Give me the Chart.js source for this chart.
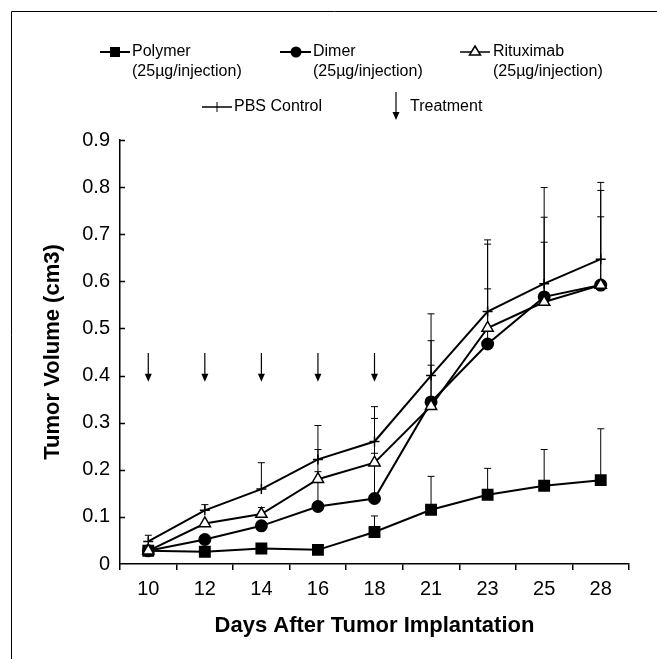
<!DOCTYPE html>
<html>
<head>
<meta charset="utf-8">
<script src="https://cdn.jsdelivr.net/npm/chart.js@4.4.0/dist/chart.umd.min.js"></script>
<style>
  html, body { margin: 0; padding: 0; background: #fff; }
  canvas { display: block; }
</style>
</head>
<body>
<canvas id="tumor" width="657" height="659"></canvas>
<script>
var days = ['10', '12', '14', '16', '18', '21', '23', '25', '28'];

var polymer    = [0.028, 0.026, 0.033, 0.030, 0.068, 0.115, 0.147, 0.166, 0.178];
var polymerErr = [0, 0, 0, 0, 0.034, 0.071, 0.056, 0.077, 0.109];

var dimer      = [0.028, 0.052, 0.081, 0.122, 0.139, 0.344, 0.467, 0.567, 0.592];
var dimerErr   = [0, 0, 0, 0.074, 0.096, 0.130, 0.117, 0.116, 0.145];

var rituximab    = [0.028, 0.086, 0.106, 0.180, 0.215, 0.335, 0.501, 0.556, 0.592];
var rituximabErr = [0, 0, 0.014, 0.063, 0.094, 0.087, 0.178, 0.180, 0.201];

var pbs    = [0.048, 0.114, 0.159, 0.222, 0.260, 0.400, 0.536, 0.595, 0.647];
var pbsErr = [0.013, 0.012, 0.056, 0.072, 0.074, 0.131, 0.152, 0.204, 0.163];

// treatment arrows
var treatmentDays = ['10', '12', '14', '16', '18'];
var arrowTop = 0.448;
var arrowTip = 0.387;

var FONT = "'Liberation Sans', Arial, Helvetica, sans-serif";

// upper error bars, drawn under the markers
var errorBars = {
  id: 'errorBars',
  beforeDatasetsDraw: function (chart) {
    var ctx = chart.ctx, x = chart.scales.x, y = chart.scales.y;
    ctx.save();
    ctx.strokeStyle = '#000';
    ctx.lineWidth = 1;
    chart.data.datasets.forEach(function (ds) {
      if (!ds.errors) return;
      ds.data.forEach(function (v, i) {
        var e = ds.errors[i];
        if (!e) return;
        var px = x.getPixelForValue(i);
        var y0 = y.getPixelForValue(v);
        var y1 = y.getPixelForValue(v + e);
        ctx.beginPath();
        ctx.moveTo(px, y0);
        ctx.lineTo(px, y1);
        ctx.moveTo(px - 3.5, y1);
        ctx.lineTo(px + 3.5, y1);
        ctx.stroke();
      });
    });
    ctx.restore();
  }
};

function drawArrow(ctx, px, yTop, yTip) {
  ctx.beginPath();
  ctx.moveTo(px, yTop);
  ctx.lineTo(px, yTip - 6);
  ctx.stroke();
  ctx.beginPath();
  ctx.moveTo(px - 3.5, yTip - 8);
  ctx.lineTo(px + 3.5, yTip - 8);
  ctx.lineTo(px, yTip);
  ctx.closePath();
  ctx.fill();
}

var extras = {
  id: 'extras',
  afterDraw: function (chart) {
    var ctx = chart.ctx, x = chart.scales.x, y = chart.scales.y, area = chart.chartArea;
    ctx.save();
    ctx.strokeStyle = '#000';
    ctx.fillStyle = '#000';

    // inward ticks on the y axis
    ctx.lineWidth = 1.5;
    y.ticks.forEach(function (t) {
      if (t.value === 0) return;
      var py = Math.round(y.getPixelForValue(t.value)) + 0.5;
      ctx.beginPath();
      ctx.moveTo(area.left, py);
      ctx.lineTo(area.left + 5, py);
      ctx.stroke();
    });

    // treatment arrows
    ctx.lineWidth = 1.2;
    treatmentDays.forEach(function (d) {
      var px = x.getPixelForValue(days.indexOf(d));
      drawArrow(ctx, px, y.getPixelForValue(arrowTop), y.getPixelForValue(arrowTip));
    });

    // frame
    ctx.lineWidth = 1;
    ctx.beginPath();
    ctx.moveTo(11.5, chart.height);
    ctx.lineTo(11.5, 11.5);
    ctx.lineTo(chart.width, 11.5);
    ctx.stroke();

    // legend
    ctx.font = '16px ' + FONT;
    ctx.textBaseline = 'middle';
    ctx.textAlign = 'left';
    ctx.lineWidth = 2;
    function seg(x0, x1, yy) {
      ctx.beginPath();
      ctx.moveTo(x0, yy);
      ctx.lineTo(x1, yy);
      ctx.stroke();
    }
    // Polymer
    seg(100, 130, 52);
    ctx.fillRect(110, 47, 10, 10);
    ctx.fillText('Polymer', 132, 52);
    ctx.fillText('(25\u00b5g/injection)', 132, 72);
    // Dimer
    seg(280, 311, 52);
    ctx.beginPath();
    ctx.arc(296, 52, 5.5, 0, Math.PI * 2);
    ctx.fill();
    ctx.fillText('Dimer', 313, 52);
    ctx.fillText('(25\u00b5g/injection)', 313, 72);
    // Rituximab
    ctx.lineWidth = 1.5;
    seg(460, 490, 52);
    ctx.beginPath();
    ctx.moveTo(475, 46);
    ctx.lineTo(480.5, 55);
    ctx.lineTo(469.5, 55);
    ctx.closePath();
    ctx.fillStyle = '#fff';
    ctx.fill();
    ctx.stroke();
    ctx.fillStyle = '#000';
    ctx.fillText('Rituximab', 493, 52);
    ctx.fillText('(25\u00b5g/injection)', 493, 72);
    // PBS
    seg(202, 232, 107);
    ctx.lineWidth = 1;
    ctx.beginPath();
    ctx.moveTo(217, 102);
    ctx.lineTo(217, 112);
    ctx.stroke();
    ctx.fillText('PBS Control', 234, 107);
    // Treatment
    ctx.lineWidth = 1.2;
    drawArrow(ctx, 396, 92, 120);
    ctx.fillText('Treatment', 410, 107);

    ctx.restore();
  }
};

var tickFont = { family: FONT, size: 20 };
var titleFont = { family: FONT, size: 22, weight: 'bold' };

new Chart(document.getElementById('tumor'), {
  type: 'line',
  data: {
    labels: days,
    datasets: [
      {
        label: 'Rituximab (25\u00b5g/injection)',
        data: rituximab,
        errors: rituximabErr,
        borderColor: '#000',
        borderWidth: 2,
        pointStyle: 'triangle',
        pointRadius: 6.5,
        pointBorderWidth: 1.5,
        pointBorderColor: '#000',
        pointBackgroundColor: '#fff'
      },
      {
        label: 'Dimer (25\u00b5g/injection)',
        data: dimer,
        errors: dimerErr,
        borderColor: '#000',
        borderWidth: 2,
        pointStyle: 'circle',
        pointRadius: 5.5,
        pointBorderColor: '#000',
        pointBackgroundColor: '#000'
      },
      {
        label: 'Polymer (25\u00b5g/injection)',
        data: polymer,
        errors: polymerErr,
        borderColor: '#000',
        borderWidth: 2,
        pointStyle: 'rect',
        pointRadius: 7,
        pointBorderColor: '#000',
        pointBackgroundColor: '#000'
      },
      {
        label: 'PBS Control',
        data: pbs,
        errors: pbsErr,
        borderColor: '#000',
        borderWidth: 2,
        pointStyle: 'cross',
        pointRadius: 5,
        pointBorderWidth: 1.5,
        pointBorderColor: '#000',
        pointBackgroundColor: '#000'
      }
    ]
  },
  options: {
    responsive: false,
    animation: false,
    layout: { padding: { top: 140, right: 28, left: 0, bottom: 0 } },
    plugins: {
      legend: { display: false },
      tooltip: { enabled: false }
    },
    scales: {
      x: {
        offset: true,
        grid: {
          display: true,
          offset: true,
          drawOnChartArea: false,
          drawTicks: true,
          tickLength: 6,
          color: '#000',
          lineWidth: 1.5
        },
        border: { display: true, color: '#000', width: 1.5 },
        ticks: { color: '#000', font: tickFont, padding: 7, maxRotation: 0, autoSkip: false },
        title: {
          display: true,
          text: 'Days After Tumor Implantation',
          color: '#000',
          font: titleFont,
          padding: { top: 0, bottom: 20 }
        },
        afterFit: function (s) { s.height = 95; }
      },
      y: {
        min: 0,
        max: 0.9,
        grid: { display: false, drawTicks: false },
        border: { display: true, color: '#000', width: 1.5 },
        ticks: {
          stepSize: 0.1,
          color: '#000',
          font: tickFont,
          padding: 10,
          callback: function (v) { return v === 0 ? '0' : v.toFixed(1); }
        },
        title: {
          display: true,
          text: 'Tumor Volume (cm3)',
          color: '#000',
          font: titleFont,
          padding: { top: 40, bottom: 0 }
        },
        afterFit: function (s) { s.width = 120; }
      }
    }
  },
  plugins: [errorBars, extras]
});
</script>
</body>
</html>
